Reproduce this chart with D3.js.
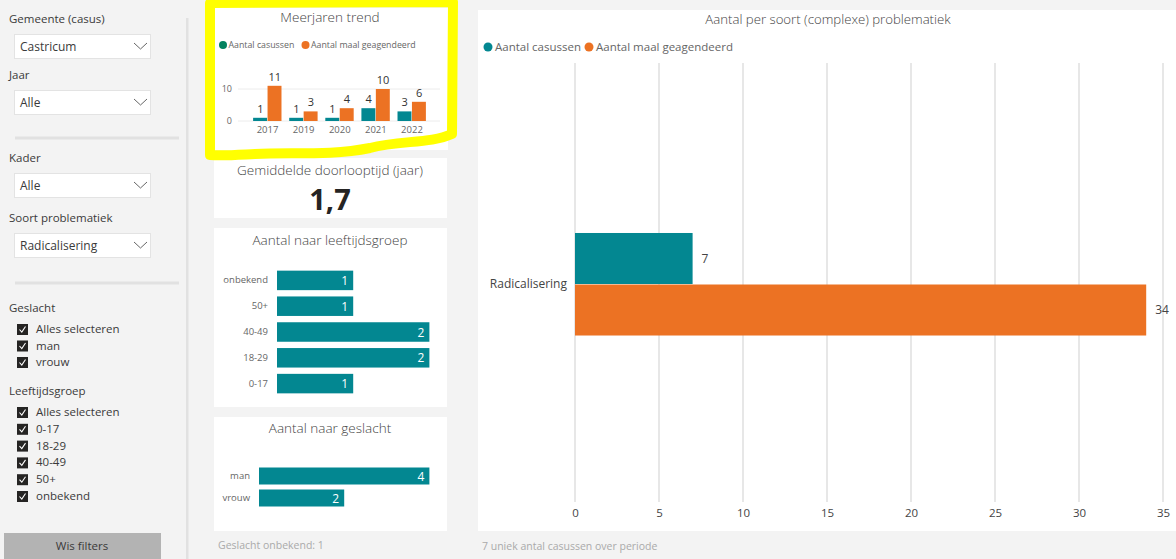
<!DOCTYPE html>
<html><head><meta charset="utf-8">
<script src="https://cdn.jsdelivr.net/npm/d3@7"></script>
<style>
html,body{margin:0;padding:0;background:#f3f3f3;}
svg{display:block;font-family:"Open Sans","Noto Sans",sans-serif;}
</style></head>
<body><svg id="c" width="1176" height="559"></svg>
<script>
// ---- data ----
const years = ["2017","2019","2020","2021","2022"];
const trendCasussen = [1,1,1,4,3];
const trendGeagendeerd = [11,3,4,10,6];
const trendTicks = [0,10];
const ageGroups = ["onbekend","50+","40-49","18-29","0-17"];
const ageCounts = [1,1,2,2,1];
const genders = ["man","vrouw"];
const genderCounts = [4,2];
const problems = ["Radicalisering"];
const probCasussen = [7];
const probGeagendeerd = [34];
const probTicks = [0,5,10,15,20,25,30,35];
const seriesNames = ["Aantal casussen","Aantal maal geagendeerd"];
const avgDuration = "1,7";
const genderUnknown = "Geslacht onbekend: 1";
const uniqueNote = "7 uniek antal casussen over periode";
const slicers = [
  {label:"Gemeente (casus)", value:"Castricum"},
  {label:"Jaar", value:"Alle"},
  {label:"Kader", value:"Alle"},
  {label:"Soort problematiek", value:"Radicalisering"}
];
const geslachtItems = ["Alles selecteren","man","vrouw"];
const leeftijdItems = ["Alles selecteren","0-17","18-29","40-49","50+","onbekend"];

const TEAL = "#038791", ORANGE = "#EC7223", TEXT = "#3a3a3a", GREY = "#666";
const FONT = '"Open Sans","Noto Sans",sans-serif';
const svg = d3.select("#c");

// ---- left filter panel ----
const left = svg.append("g");
slicers.forEach((s,i)=>{
  const y0 = [19,75,158,218][i];
  left.append("text").attr("x",9).attr("y",y0).attr("dy","0.35em")
    .attr("font-size",11.5).attr("fill",TEXT).text(s.label);
  const by = y0+15;
  left.append("rect").attr("x",14.5).attr("y",by+0.5).attr("width",136).attr("height",24)
    .attr("fill","#fff").attr("stroke","#e3e3e3");
  left.append("text").attr("x",20).attr("y",by+13).attr("dy","0.35em")
    .attr("font-size",12).attr("fill",TEXT).text(s.value);
  left.append("path").attr("d",`M${134},${by+9} L${140.5},${by+15} L${147},${by+9}`)
    .attr("fill","none").attr("stroke","#666").attr("stroke-width",1);
});
[138,283].forEach(y=>left.append("rect").attr("x",15).attr("y",y-1.5).attr("width",164).attr("height",3).attr("fill","#e1e1e1"));
left.append("rect").attr("x",186).attr("y",18).attr("width",2.5).attr("height",541).attr("fill","#e1e1e1");

function checklist(title, ty, items, y0, step){
  left.append("text").attr("x",9).attr("y",ty).attr("dy","0.35em")
    .attr("font-size",11.5).attr("fill",TEXT).text(title);
  items.forEach((t,i)=>{
    const y = y0 + i*step;
    left.append("rect").attr("x",17).attr("y",y-5).attr("width",11).attr("height",11).attr("fill","#252423");
    left.append("path").attr("d",`M${19.5},${y+0.5} L${21.8},${y+3} L${25.5},${y-2.5}`)
      .attr("fill","none").attr("stroke","#fff").attr("stroke-width",1.1);
    left.append("text").attr("x",36).attr("y",y).attr("dy","0.35em")
      .attr("font-size",11.5).attr("fill",TEXT).text(t);
  });
}
checklist("Geslacht",308,geslachtItems,329,16.5);
checklist("Leeftijdsgroep",391,leeftijdItems,412,16.8);

left.append("rect").attr("x",4).attr("y",533).attr("width",157).attr("height",26).attr("fill","#b3b3b3");
left.append("text").attr("x",82).attr("y",546).attr("dy","0.35em").attr("text-anchor","middle")
  .attr("font-size",11.5).attr("fill",TEXT).text("Wis filters");

// ---- cards ----
function card(x,y,w,h){ svg.append("rect").attr("x",x).attr("y",y).attr("width",w).attr("height",h).attr("fill","#fff"); }
card(215,8,233,142);
card(214,158,233,60);
card(214,228,233,179);
card(214,417,233,114);
card(478,10,698,521);

function title(x,y,t,size){
  svg.append("text").attr("x",x).attr("y",y).attr("dy","0.35em").attr("text-anchor","middle")
    .attr("font-size",size||13.5).attr("fill","#444").attr("font-weight",300).text(t);
}
function styleAxis(ax, size, color){
  ax.attr("font-family",FONT);
  ax.select(".domain").remove();
  ax.selectAll("text").attr("font-size",size).attr("fill",color);
}

// ---- Meerjaren trend ----
title(330,17,"Meerjaren trend");
const tl = svg.append("g").attr("font-size",8.8);
tl.append("circle").attr("cx",223).attr("cy",45).attr("r",4).attr("fill","#03825F");
tl.append("text").attr("x",228.5).attr("y",45).attr("dy","0.35em").attr("fill",GREY).text(seriesNames[0]);
tl.append("circle").attr("cx",305.5).attr("cy",45).attr("r",4).attr("fill",ORANGE);
tl.append("text").attr("x",311).attr("y",45).attr("dy","0.35em").attr("fill",GREY).text(seriesNames[1]);

const tx0 = d3.scaleBand().domain(years).range([249.5,430]).paddingInner(0.2).paddingOuter(0.1);
const tx1 = d3.scaleBand().domain([0,1]).range([0,tx0.bandwidth()]);
const ty = d3.scaleLinear().domain([0,10]).range([121,89]);
const tg = svg.append("g");
tg.selectAll("line.g").data(trendTicks).join("line")
  .attr("x1",238).attr("x2",440).attr("y1",d=>ty(d)).attr("y2",d=>ty(d)).attr("stroke","#ececec");
styleAxis(tg.append("g").attr("transform","translate(232,0)")
  .call(d3.axisLeft(ty).tickValues(trendTicks).tickSize(0).tickPadding(0)), 9, GREY);
styleAxis(tg.append("g").attr("transform","translate(0,125)")
  .call(d3.axisBottom(tx0).tickSize(0).tickPadding(1)), 9.5, GREY);
const trendData = years.map((y,i)=>({y, vals:[trendCasussen[i],trendGeagendeerd[i]]}));
const grp = tg.selectAll("g.grp").data(trendData).join("g").attr("transform",d=>`translate(${tx0(d.y)},0)`);
grp.selectAll("rect").data(d=>d.vals).join("rect")
  .attr("x",(d,i)=>tx1(i)).attr("width",tx1.bandwidth()-0.5)
  .attr("y",d=>ty(d)).attr("height",d=>ty(0)-ty(d))
  .attr("fill",(d,i)=>i?ORANGE:TEAL);
grp.selectAll("text").data(d=>d.vals).join("text")
  .attr("x",(d,i)=>tx1(i)+tx1.bandwidth()/2).attr("y",d=>ty(d)-9).attr("dy","0.35em")
  .attr("text-anchor","middle").attr("font-size",11).attr("fill","#333").text(d=>d);

// ---- Gemiddelde doorlooptijd ----
title(330,170,"Gemiddelde doorlooptijd (jaar)",13.5);
svg.append("text").attr("x",330).attr("y",200).attr("dy","0.35em").attr("text-anchor","middle")
  .attr("font-size",29).attr("font-weight",700).attr("fill","#252423").text(avgDuration);

// ---- Aantal naar leeftijdsgroep ----
title(330,240,"Aantal naar leeftijdsgroep");
function hbar(cats, vals, x0, unit, yr, bh, labelX){
  const ys = d3.scaleBand().domain(cats).range(yr);
  const xs = d3.scaleLinear().domain([0,1]).range([x0,x0+unit]);
  const g = svg.append("g");
  cats.forEach((c,i)=>{
    const cy = ys(c)+ys.bandwidth()/2;
    g.append("rect").attr("x",xs(0)).attr("y",cy-bh/2).attr("width",xs(vals[i])-xs(0)).attr("height",bh).attr("fill",TEAL);
    g.append("text").attr("x",xs(vals[i])-5).attr("y",cy).attr("dy","0.38em").attr("text-anchor","end")
      .attr("font-size",12).attr("fill","#fff").text(vals[i]);
  });
  styleAxis(g.append("g").attr("transform",`translate(${labelX},0)`)
    .call(d3.axisLeft(ys).tickSize(0).tickPadding(0)), 9.5, GREY);
}
hbar(ageGroups, ageCounts, 277, 76.2, [267.5,396.5], 19.5, 268);

// ---- Aantal naar geslacht ----
title(330,428,"Aantal naar geslacht");
hbar(genders, genderCounts, 259, 42.6, [465,509], 17, 250);
svg.append("text").attr("x",218).attr("y",545).attr("dy","0.35em").attr("font-size",10.5).attr("fill","#aaa").text(genderUnknown);

// ---- Big chart ----
title(828,19,"Aantal per soort (complexe) problematiek",13.2);
const bl = svg.append("g").attr("font-size",11.5);
bl.append("circle").attr("cx",488).attr("cy",47).attr("r",4.5).attr("fill",TEAL);
bl.append("text").attr("x",495).attr("y",47).attr("dy","0.35em").attr("fill",GREY).text(seriesNames[0]);
bl.append("circle").attr("cx",589).attr("cy",47).attr("r",4.5).attr("fill",ORANGE);
bl.append("text").attr("x",596).attr("y",47).attr("dy","0.35em").attr("fill",GREY).text(seriesNames[1]);

const bx = d3.scaleLinear().domain([0,35]).range([575,1163]);
const by0 = d3.scaleBand().domain(problems).range([63,506]).paddingOuter(1.65);
const by1 = d3.scaleBand().domain([0,1]).range([0,by0.bandwidth()]);
const bg = svg.append("g");
bg.selectAll("line.grid").data(probTicks).join("line")
  .attr("x1",d=>bx(d)).attr("x2",d=>bx(d)).attr("y1",63).attr("y2",502)
  .attr("stroke","#cfcfcf").attr("stroke-width",1);
styleAxis(bg.append("g").attr("transform","translate(0,508)")
  .call(d3.axisBottom(bx).tickValues(probTicks).tickSize(0).tickPadding(1)), 11.5, "#444");
styleAxis(bg.append("g").attr("transform","translate(567,0)")
  .call(d3.axisLeft(by0).tickSize(0).tickPadding(0)), 12, "#444");
const probData = problems.map((p,i)=>({p, vals:[probCasussen[i],probGeagendeerd[i]]}));
const pg = bg.selectAll("g.pg").data(probData).join("g").attr("transform",d=>`translate(0,${by0(d.p)})`);
pg.selectAll("rect").data(d=>d.vals).join("rect")
  .attr("x",bx(0)).attr("y",(d,i)=>by1(i)).attr("height",by1.bandwidth()-0.5)
  .attr("width",d=>bx(d)-bx(0)).attr("fill",(d,i)=>i?ORANGE:TEAL);
pg.selectAll("text").data(d=>d.vals).join("text")
  .attr("x",d=>bx(d)+9).attr("y",(d,i)=>by1(i)+by1.bandwidth()/2).attr("dy","0.35em")
  .attr("font-size",12).attr("fill","#444").text(d=>d);
svg.append("text").attr("x",482).attr("y",546).attr("dy","0.35em").attr("font-size",10.5).attr("fill","#aaa").text(uniqueNote);

// ---- yellow highlight annotation ----
svg.append("path")
  .attr("d","M210,3 L453,2 L452,134 C430,144 400,140 370,148 C330,156 290,152 255,154 C235,155 222,156 210,155 Z")
  .attr("fill","none").attr("stroke","#ffff00").attr("stroke-width",10).attr("stroke-linejoin","round");
</script></body></html>
